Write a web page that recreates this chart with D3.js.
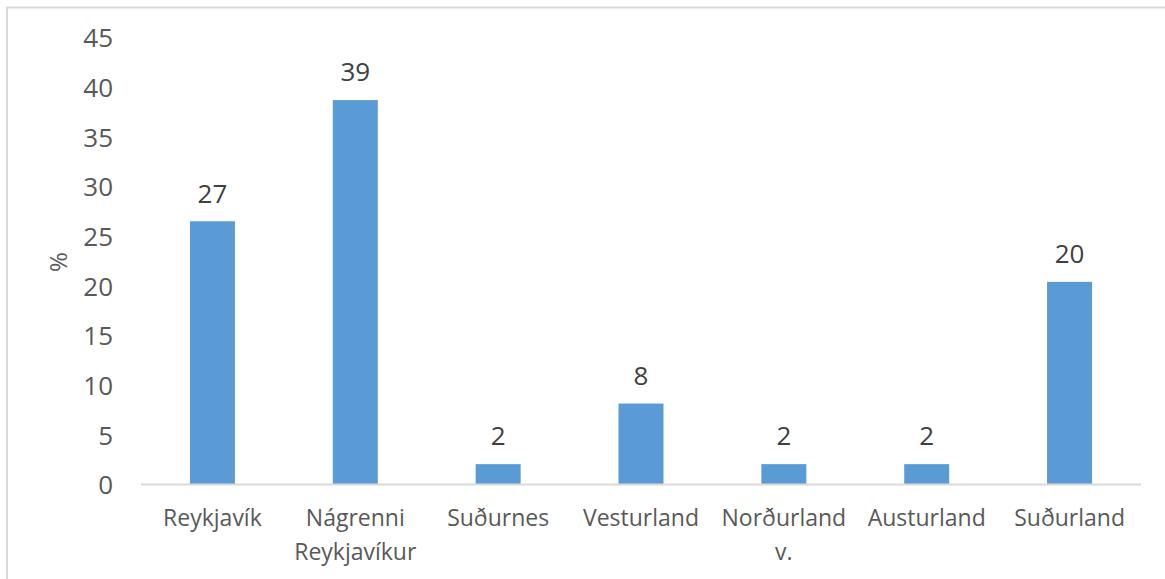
<!DOCTYPE html>
<html>
<head>
<meta charset="utf-8">
<script src="https://cdn.jsdelivr.net/npm/d3@7"></script>
<style>
  body { margin: 0; background: #fff; }
  svg { display: block; font-family: "Open Sans", sans-serif; }
</style>
</head>
<body>
<svg id="chart" width="1165" height="579"></svg>
<script>
// regions and share (%)
const regions = ["Reykjavík", "Nágrenni Reykjavíkur", "Suðurnes", "Vesturland", "Norðurland v.", "Austurland", "Suðurland"];
const regionLines = [["Reykjavík"], ["Nágrenni", "Reykjavíkur"], ["Suðurnes"], ["Vesturland"], ["Norðurland", "v."], ["Austurland"], ["Suðurland"]];
const shares = [26.5, 38.7, 2.05, 8.15, 2.05, 2.05, 20.4];
const yTicks = [0, 5, 10, 15, 20, 25, 30, 35, 40, 45];

const svg = d3.select("#chart");

// outer frame (only left and top edges are visible in the picture)
svg.append("rect")
  .attr("x", 7).attr("y", 7.5)
  .attr("width", 1200).attr("height", 600)
  .attr("fill", "none")
  .attr("stroke", "#d9d9d9")
  .attr("stroke-width", 2);

var x = d3.scaleBand().domain(regions).range([141, 1141])
  .paddingInner(0.685).paddingOuter(0.685 / 2);
var y = d3.scaleLinear().domain([0, 45]).range([484.5, 37.5]);

// y axis labels, no line
var yAxis = d3.axisLeft(y).tickValues(yTicks).tickSize(0).tickPadding(28);
var gY = svg.append("g").attr("transform", "translate(141,0)").call(yAxis)
  .attr("font-family", "'Open Sans', sans-serif");
gY.select(".domain").remove();
gY.selectAll("text")
  .attr("fill", "#595959")
  .style("font-size", "26px")
  .attr("dy", "0.36em");

// bars
svg.selectAll(".bar")
  .data(shares)
  .enter()
  .append("rect")
  .attr("class", "bar")
  .attr("x", (d, i) => x(regions[i]))
  .attr("y", d => y(d))
  .attr("width", x.bandwidth())
  .attr("height", d => y(0) - y(d))
  .attr("fill", "#5b9bd5");

// x axis line
var xAxis = d3.axisBottom(x).tickSize(0).tickFormat("");
var gX = svg.append("g").attr("transform", "translate(0," + y(0) + ")").call(xAxis);
gX.select(".domain")
  .attr("stroke", "#d9d9d9")
  .attr("stroke-width", 2)
  .attr("d", "M141,0H1141");

// category labels (wrapped)
var cat = svg.selectAll(".cat")
  .data(regions)
  .enter()
  .append("text")
  .attr("class", "cat")
  .attr("text-anchor", "middle")
  .attr("fill", "#595959")
  .style("font-size", "23px");
cat.each(function(d, i) {
  var t = d3.select(this);
  regionLines[i].forEach(function(line, k) {
    t.append("tspan")
      .attr("x", x(d) + x.bandwidth() / 2)
      .attr("y", 526 + k * 34)
      .text(line);
  });
});

// data labels
svg.selectAll(".val")
  .data(shares)
  .enter()
  .append("text")
  .attr("class", "val")
  .attr("text-anchor", "middle")
  .attr("x", (d, i) => x(regions[i]) + x.bandwidth() / 2)
  .attr("y", d => y(d) - 28)
  .attr("dy", "0.36em")
  .attr("fill", "#404040")
  .style("font-size", "26px")
  .text(d => Math.round(d));

// axis title
svg.append("text")
  .attr("transform", "translate(67,262) rotate(-90)")
  .attr("text-anchor", "middle")
  .attr("fill", "#595959")
  .style("font-size", "24px")
  .text("%");
</script>
</body>
</html>
